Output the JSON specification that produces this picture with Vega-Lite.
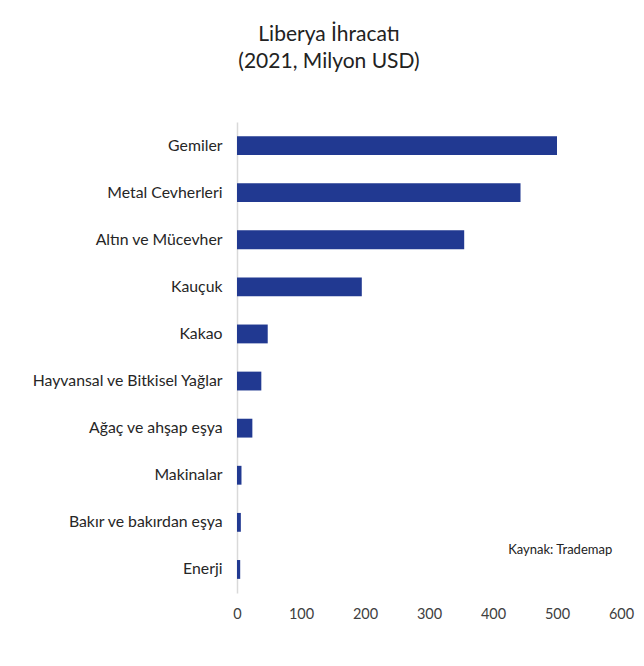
{
  "$schema": "https://vega.github.io/schema/vega-lite/v6.json",
  "width": 384,
  "height": 471,
  "autosize": {"type": "none"},
  "padding": {"left": 237, "top": 122, "right": 23, "bottom": 73},
  "background": "white",
  "title": {
    "text": ["Liberya İhracatı", "(2021, Milyon USD)"],
    "font": "Lato",
    "fontSize": 21,
    "fontWeight": "normal",
    "color": "#222222",
    "anchor": "middle",
    "dx": -100,
    "lineHeight": 27,
    "offset": 50
  },
  "config": {
    "view": {"stroke": null},
    "font": "Lato"
  },
  "datasets": {
    "main": [
      {"urun": "Gemiler", "deger": 500},
      {"urun": "Metal Cevherleri", "deger": 443},
      {"urun": "Altın ve Mücevher", "deger": 355},
      {"urun": "Kauçuk", "deger": 195},
      {"urun": "Kakao", "deger": 48},
      {"urun": "Hayvansal ve Bitkisel Yağlar", "deger": 38},
      {"urun": "Ağaç ve ahşap eşya", "deger": 24},
      {"urun": "Makinalar", "deger": 7},
      {"urun": "Bakır ve bakırdan eşya", "deger": 6},
      {"urun": "Enerji", "deger": 5}
    ],
    "note": [
      {"urun": "Enerji", "deger": 505, "text": "Kaynak: Trademap"}
    ]
  },
  "layer": [
    {
      "data": {"name": "main"},
      "mark": {"type": "bar", "color": "#213991"},
      "encoding": {
        "y": {
          "field": "urun",
          "type": "nominal",
          "sort": null,
          "scale": {"paddingInner": 0.6, "paddingOuter": 0.3},
          "axis": {
            "title": null,
            "ticks": false,
            "domainColor": "#d9d9d9",
            "domainWidth": 1.5,
            "labelFontSize": 15.8,
            "labelColor": "#262626",
            "labelPadding": 15,
            "labelFont": "Lato",
            "labelLimit": 300
          }
        },
        "x": {
          "field": "deger",
          "type": "quantitative",
          "scale": {"domain": [0, 600], "nice": false},
          "axis": {
            "title": null,
            "values": [0, 100, 200, 300, 400, 500, 600],
            "grid": false,
            "domain": false,
            "ticks": false,
            "labelFlush": false,
            "labelFontSize": 14.5,
            "labelColor": "#404040",
            "labelPadding": 14,
            "labelFont": "Lato"
          }
        }
      }
    },
    {
      "data": {"name": "note"},
      "mark": {"type": "text", "font": "Lato", "fontSize": 13, "color": "#222222", "dy": -19, "align": "center"},
      "encoding": {
        "y": {"field": "urun", "type": "nominal", "sort": null},
        "x": {"field": "deger", "type": "quantitative"},
        "text": {"field": "text"}
      }
    }
  ]
}
